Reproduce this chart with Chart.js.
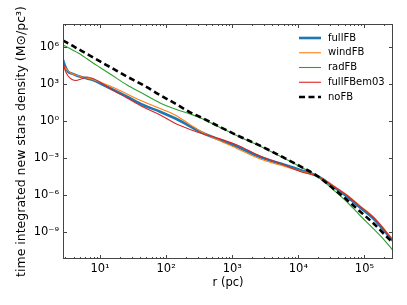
<!DOCTYPE html>
<html>
<head>
<meta charset="utf-8">
<script src="https://cdn.jsdelivr.net/npm/chart.js@4.4.1/dist/chart.umd.min.js"></script>
<style>
  html, body { margin: 0; padding: 0; background: #fff; }
</style>
</head>
<body>
<canvas id="c" width="407" height="305"></canvas>
<script>
// radius (pc), shared by every curve
const radius = [2.75, 2.95, 3.28, 3.77, 4.33, 5.16, 6.36, 7.83, 10, 14.2, 25.6, 44.8, 80.9, 136, 230, 326, 550,
  1180, 2640, 6300, 10600, 19900, 33500, 54600, 85800, 135000, 191000, 270000];

// time integrated new stars density (Msun/pc^3)
const fullFB = [8.41e4, 2.75e4, 9.53e3, 6.69e3, 4.97e3, 3.62e3, 2.69e3, 2.03e3, 1.08e3, 434, 90.8, 19.4, 5.56, 1.63,
  0.367, 0.134, 0.0416, 8.55e-3, 1.21e-3, 2.73e-4, 1.08e-4, 3.21e-5, 4.99e-6, 7.48e-7, 1.0e-7, 1.34e-8, 1.67e-9, 1.96e-10];
const windFB = [3.32e4, 2.0e4, 1.09e4, 6.56e3, 5.06e3, 3.76e3, 2.9e3, 2.23e3, 1.35e3, 665, 150, 37.2, 10.1, 3.01,
  0.504, 0.153, 0.0379, 5.89e-3, 8.34e-4, 2.06e-4, 8.93e-5, 3.21e-5, 6.01e-6, 1.03e-6, 1.37e-7, 1.87e-8, 2.42e-9, 2.36e-10];
const radFB = [1.37e6, 1.12e6, 8.46e5, 5.71e5, 3.8e5, 2.26e5, 1.05e5, 4.81e4, 2.08e4, 6.21e3, 802, 156, 28.1, 9.2,
  3.62, 1.82, 0.468, 0.0627, 9.04e-3, 8.65e-4, 1.99e-4, 2.92e-5, 2.86e-6, 2.79e-7, 2.26e-8, 2.08e-9, 3.12e-10, 3.34e-11];
const fullFBem03 = [5.8e4, 1.31e4, 4.28e3, 2.23e3, 1.85e3, 2.45e3, 3.56e3, 2.69e3, 1.4e3, 418, 71.3, 13.3, 3.01, 0.643,
  0.202, 0.105, 0.0457, 0.0113, 1.46e-3, 2.49e-4, 8.14e-5, 3.21e-5, 5.48e-6, 9.35e-7, 1.25e-7, 1.71e-8, 2.2e-9, 2.15e-10];
const noFB = [3.23e6, 2.58e6, 1.88e6, 1.25e6, 8.15e5, 4.84e5, 2.52e5, 1.34e5, 6.36e4, 2.24e4, 3.83e3, 787, 122, 25.6,
  4.98, 2.07, 0.514, 0.0688, 9.93e-3, 9.5e-4, 2.18e-4, 3.21e-5, 3.44e-6, 4.05e-7, 4.76e-8, 5.59e-9, 8.69e-10, 1.35e-10];

const seriesNames = ['fullFB', 'windFB', 'radFB', 'fullFBem03', 'noFB'];
const seriesValues = [fullFB, windFB, radFB, fullFBem03, noFB];

const xTicks = [10, 100, 1e3, 1e4, 1e5];
const xTickLabels = ['10¹', '10²', '10³', '10⁴', '10⁵'];
const yTicks = [1e-9, 1e-6, 1e-3, 1, 1e3, 1e6];
const yTickLabels = ['10⁻⁹', '10⁻⁶', '10⁻³', '10⁰', '10³', '10⁶'];

// matplotlib classic look
const COLORS = ['#1f77b4', '#ff7f0e', '#2ca02c', '#d62728', '#000000'];
const WIDTHS = [2.6, 1.1, 1.1, 1.1, 2.6];
const DASHES = [[], [], [], [], [6, 3.5]];
const FONT = "'DejaVu Sans', sans-serif";

const datasets = seriesNames.map((name, i) => ({
  label: name,
  data: radius.map((r, j) => ({ x: r, y: seriesValues[i][j] })),
  borderColor: COLORS[i],
  borderWidth: WIDTHS[i],
  borderDash: DASHES[i],
  pointRadius: 0,
  fill: false,
  cubicInterpolationMode: 'monotone',
  order: seriesNames.length - i,   // later series drawn on top
}));

// frame, inward ticks (major + minor on x) and the legend
const decorations = {
  id: 'decorations',
  afterDraw(chart) {
    const { ctx, chartArea: a, scales: { x, y } } = chart;
    ctx.save();
    ctx.strokeStyle = '#444';
    ctx.lineWidth = 1;
    ctx.setLineDash([]);
    ctx.strokeRect(a.left + 0.5, a.top + 0.5, a.right - a.left - 1, a.bottom - a.top - 1);

    ctx.beginPath();
    for (let d = 0; d <= 5; d++) {
      for (let m = 1; m <= 9; m++) {
        const v = m * Math.pow(10, d);
        if (v < x.min || v > x.max) continue;
        const px = Math.round(x.getPixelForValue(v)) + 0.5;
        const len = m === 1 ? 4 : 2;
        ctx.moveTo(px, a.bottom); ctx.lineTo(px, a.bottom - len);
        ctx.moveTo(px, a.top); ctx.lineTo(px, a.top + len);
      }
    }
    yTicks.forEach((v) => {
      const py = Math.round(y.getPixelForValue(v)) + 0.5;
      ctx.moveTo(a.left, py); ctx.lineTo(a.left + 4, py);
      ctx.moveTo(a.right, py); ctx.lineTo(a.right - 4, py);
    });
    ctx.stroke();

    // legend (no frame), upper right
    ctx.font = '10px ' + FONT;
    ctx.fillStyle = '#000';
    ctx.textBaseline = 'middle';
    chart.data.datasets.forEach((ds, i) => {
      const ly = 38 + i * 14.75;
      ctx.beginPath();
      ctx.strokeStyle = ds.borderColor;
      ctx.lineWidth = ds.borderWidth;
      ctx.setLineDash(ds.borderDash);
      ctx.moveTo(299, ly); ctx.lineTo(321, ly);
      ctx.stroke();
      ctx.setLineDash([]);
      ctx.fillText(ds.label, 328, ly);
    });
    ctx.restore();
  },
};

new Chart(document.getElementById('c'), {
  type: 'line',
  data: { datasets },
  plugins: [decorations],
  options: {
    responsive: false,
    animation: false,
    devicePixelRatio: 1,
    layout: { padding: { top: 24, right: 14, left: 0, bottom: 0 } },
    plugins: { legend: { display: false }, tooltip: { enabled: false } },
    scales: {
      x: {
        type: 'logarithmic',
        min: 2.75,
        max: 2.7e5,
        grid: { display: false, drawTicks: false },
        border: { display: false },
        afterBuildTicks: (s) => { s.ticks = xTicks.map((v) => ({ value: v })); },
        afterFit: (s) => { s.height = 46; },
        ticks: {
          autoSkip: false, maxRotation: 0, padding: 3, color: '#000',
          font: { family: FONT, size: 11.5 },
          callback: (v) => xTickLabels[xTicks.indexOf(v)] || '',
        },
        title: { display: true, text: 'r (pc)', color: '#000', font: { family: FONT, size: 11.5 }, padding: { top: 0, bottom: 15 } },
      },
      y: {
        type: 'logarithmic',
        min: 6.9e-12,
        max: 6.8e7,
        grid: { display: false, drawTicks: false },
        border: { display: false },
        afterBuildTicks: (s) => { s.ticks = yTicks.map((v) => ({ value: v })); },
        afterFit: (s) => { s.width = 63; },
        ticks: {
          autoSkip: false, padding: 4, color: '#000',
          font: { family: FONT, size: 11.5 },
          callback: (v) => yTickLabels[yTicks.indexOf(v)] || '',
        },
        title: { display: true, text: 'time integrated new stars density (M⊙/pc³)', color: '#000', font: { family: FONT, size: 12.5 }, padding: { top: 14, bottom: 0 } },
      },
    },
  },
});
</script>
</body>
</html>
